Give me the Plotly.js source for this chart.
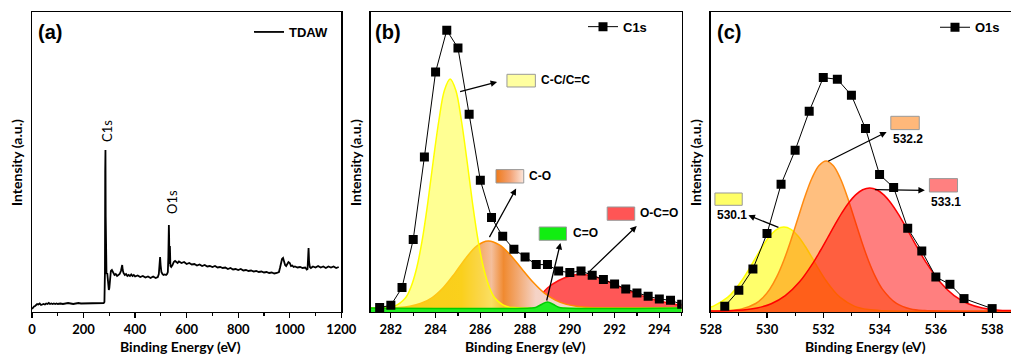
<!DOCTYPE html>
<html><head><meta charset="utf-8">
<script src="https://cdn.plot.ly/plotly-3.0.1.min.js"></script>
<style>html,body{margin:0;padding:0;background:#fff}#chart{width:1011px;height:357px}</style>
</head><body><div id="chart"></div>
<script>
// ---------- (a) survey spectrum ----------
var surveyEnergy = [0,4,8,12,16,20,25,30,35,40,45,50,55,60,65,70,75,80,85,90,95,100,110,120,130,140,150,160,170,180,190,200,210,220,230,240,250,260,270,278,281,283,284,285,286,287,289,292,294,296,298,300,303,306,310,315,320,325,330,335,340,345,348,350,352,355,360,365,370,375,380,385,390,395,400,410,420,430,440,450,460,470,480,488,492,495,497,499,502,506,510,515,520,524,527,529,531,532,533,534,535,537,540,545,550,555,560,565,570,580,590,600,610,620,630,640,650,660,670,680,690,700,710,720,730,740,750,760,770,780,790,800,810,820,830,840,850,860,870,880,890,900,910,920,930,940,950,958,962,966,970,974,978,982,986,990,995,1000,1005,1010,1015,1020,1030,1040,1050,1060,1066,1069,1071,1073,1075,1078,1082,1090,1100,1110,1120,1130,1140,1150,1160,1170,1180,1190];
var surveyIntensity = [3,4.5,5.5,6,7,8,7.5,8.5,7,7.5,8,7.5,8.5,8,9,8,8.5,8,8.5,8,8.5,8,8.5,8,8.5,9,8.5,8,8.5,9,8.5,8.5,9,8.5,9,8.5,9,9,9,9,10,40,140,162,95,40,38,39,34,26,22,24,33,41,42,40,37,38,36,37,38,41,44,47,42,39,37,38,36,37,36,37.5,36,37,35.5,36.5,35,36,34.5,35.5,34,35.5,34,35,38,48,55,47,40,38,37,37.5,37,38,40,55,87,75,48,62,66,46,45,47,50,51,50,49,50.5,49,50,48,49,47.5,48,46.5,47.5,46,47,45.5,46,45,46,44.5,45,44,44.5,43,44,42.5,43,42,43,41.5,42,41,41.5,40.5,41,40,40.5,39.5,40,39,39.5,38.5,39,40,44,50,53,54,50,47,46,48,50,49,46,46.5,45,45.5,44.5,45,44,44.5,42.5,43,55,64,50,45,44,45.5,44.5,46,44.5,45.5,44,45.5,44.5,45.5,44,45];

// ---------- (b) C1s ----------
var c1sEnergy = [281.5,282,282.5,283,283.5,284,284.5,285,285.5,286,286.5,287,287.5,288,288.5,289,289.5,290,290.5,291,291.5,292,292.5,293,293.5,294,294.5,295];
var c1sIntensity = [4.4,6.7,24.4,72.4,155,240,281.7,264,197.7,131.7,94.4,75.7,62.7,55,47.4,47.4,41,39.4,41,36.7,32.4,28,23,19,15.7,13,11.7,7.7];
var ccEnergy = [281.1,282.15,282.65,282.9,283.15,283.4,283.65,283.9,284.15,284.4,284.65,284.9,285.15,285.4,285.65,285.9,286.15,286.4,286.65,287.15,287.65,295];
var ccIntensity = [4,5.7,14,25,43.5,71.6,109,152,192,222,233,222,192,152,109,71.6,43.5,25,14,5.7,4.2,4];
var coEnergy = [281.1,282.35,282.85,283.35,283.85,284.35,284.85,285.35,285.85,286.35,286.85,287.35,287.85,288.35,288.85,289.35,289.85,290.35,290.85,295];
var coIntensity = [4,4.6,5.8,8.7,14.5,24.5,38.4,53.8,66.2,71,67.1,56.8,43.2,29.9,19.1,11.9,7.6,5.5,4.6,4];
var cdoEnergy = [281.1,288.25,288.5,288.75,289.0,289.25,289.5,289.75,295];
var cdoIntensity = [4,4,4.8,7.8,10,7.8,4.8,4,4];
var occoEnergy = [281.1,287.5,288.0,288.5,289.0,289.5,290.0,290.45,291.0,291.5,292.0,292.5,293.0,293.5,294.0,294.5,295.0];
var occoIntensity = [4,4.5,5.5,12,24,31.5,36,37.7,36,32.5,27.5,22.5,18,14,11,8.5,6.5];

// ---------- (c) O1s ----------
var o1sEnergy = [528.5,529,529.5,530,530.5,531,531.5,532,532.5,533,533.5,534,534.5,535,535.5,536,536.5,537,538];
var o1sIntensity = [5.7,21.7,43,78.4,127.7,161.7,200.7,234.4,232.7,216.7,183.4,137.4,124.4,83.7,61,35,27.7,13.4,3.4];
var p5301Energy = [528.0,528.1,528.6,528.85,529.1,529.35,529.6,529.85,530.1,530.35,530.6,530.85,531.1,531.35,531.6,531.85,532.1,532.35,532.6,533.1,533.6,534.1,538.7];
var p5301Intensity = [4.9,5.9,14.6,21.9,31.2,42.3,54.3,66,76,82.7,85,82.7,76,66,54.3,42.3,31.2,21.9,14.6,5.9,2.4,1.3,1];
var p5322Energy = [528,528.6,529.1,529.6,529.85,530.1,530.35,530.6,530.85,531.1,531.35,531.6,531.85,532.1,532.35,532.6,532.85,533.1,533.35,533.6,533.85,534.1,534.6,535.1,535.6,538.7];
var p5322Intensity = [1,1.4,3,8.5,14.2,22.9,35.4,51.8,71.8,93.7,115.5,134,146.5,151,146.5,134,115.5,93.7,71.8,51.8,35.4,22.9,8.5,3,1.4,1];
var p5331Energy = [528,529.15,529.65,530.15,530.65,531.15,531.65,531.9,532.15,532.4,532.65,532.9,533.15,533.4,533.65,533.9,534.15,534.4,534.65,534.9,535.15,535.4,535.65,536.15,536.65,537.15,537.65,538.15,538.7];
var p5331Intensity = [1,2.1,4,8.2,16.3,29.9,49.7,61.5,74,86.6,98.6,109,117.1,122.2,124,122.2,117.1,109,98.6,86.6,74,61.5,49.7,29.9,16.3,8.2,4,2.1,1.4];

var xTickFont = {family:'Lato', size:13, color:'#000', weight:'bold'};
function xAx(domain, range, dtick, anchor){
  return {domain:domain, range:range, anchor:anchor, dtick:dtick, tick0:0, ticks:'outside', ticklen:5, tickwidth:1.2, tickcolor:'#000',
    minor:{dtick:dtick/2, ticks:'outside', ticklen:3, tickwidth:1.2, tickcolor:'#000'},
    showline:true, linecolor:'#000', linewidth:1.3, mirror:true, showgrid:false, zeroline:false, tickfont:xTickFont, fixedrange:true};
}
function yAx(anchor){
  return {domain:[0.12605,0.96639], range:[0,300], anchor:anchor, showticklabels:false, ticks:'', showline:true, linecolor:'#000', linewidth:1.3, mirror:true, showgrid:false, zeroline:false};
}
var sp = {shape:'spline', smoothing:1};
var traces = [
  {x:surveyEnergy, y:surveyIntensity, xaxis:'x', yaxis:'y', mode:'lines', name:'TDAW', line:{color:'#000', width:1.8}, legend:'legend'},
  // (b)
  {x:occoEnergy, y:occoIntensity, xaxis:'x2', yaxis:'y2', mode:'lines', fill:'tozeroy', fillcolor:'#ff5757', line:Object.assign({color:'#ff1010', width:1.5}, sp), showlegend:false, hoverinfo:'skip'},
  {x:coEnergy, y:coIntensity, xaxis:'x2', yaxis:'y2', mode:'lines', fill:'tozeroy',
    fillgradient:{type:'horizontal', start:282, stop:291, colorscale:[[0,'#f29a0c'],[0.35,'#f4a010'],[0.45,'#f5ae70'],[0.5,'#f4bf9c'],[0.56,'#f08a30'],[0.63,'#f2a870'],[0.72,'#f5d3c6'],[1,'#f5d8cc']]},
    line:Object.assign({color:'#ff8c00', width:1.5}, sp), showlegend:false, hoverinfo:'skip'},
  {x:ccEnergy, y:ccIntensity, xaxis:'x2', yaxis:'y2', mode:'lines', fill:'tozeroy', fillcolor:'rgba(255,255,40,0.5)', line:Object.assign({color:'#ffff00', width:1.5}, sp), showlegend:false, hoverinfo:'skip'},
  {x:cdoEnergy, y:cdoIntensity, xaxis:'x2', yaxis:'y2', mode:'lines', fill:'tozeroy', fillcolor:'#22ee22', line:Object.assign({color:'#00cc00', width:1.5}, sp), showlegend:false, hoverinfo:'skip'},
  {x:c1sEnergy, y:c1sIntensity, xaxis:'x2', yaxis:'y2', mode:'lines+markers', name:'C1s', line:{color:'#000', width:1}, marker:{symbol:'square', size:9, color:'#000'}, legend:'legend2'},
  {x:[286.70,287.94,287.94,286.70,286.70], y:[129,129,142.4,142.4,129], xaxis:'x2', yaxis:'y2', mode:'lines', fill:'toself',
    fillgradient:{type:'horizontal', start:286.70, stop:287.94, colorscale:[[0,'#ef7a1a'],[0.5,'#f3a070'],[1,'#fbe6dc']]},
    line:{color:'#999', width:1}, showlegend:false, hoverinfo:'skip'},
  // (c)
  {x:p5301Energy, y:p5301Intensity, xaxis:'x3', yaxis:'y3', mode:'lines', fill:'tozeroy', fillcolor:'rgba(255,255,0,0.58)', line:Object.assign({color:'#ffff00', width:1.5}, sp), showlegend:false, hoverinfo:'skip'},
  {x:p5322Energy, y:p5322Intensity, xaxis:'x3', yaxis:'y3', mode:'lines', fill:'tozeroy', fillcolor:'rgba(255,128,0,0.5)', line:Object.assign({color:'#ff8a10', width:1.5}, sp), showlegend:false, hoverinfo:'skip'},
  {x:p5331Energy, y:p5331Intensity, xaxis:'x3', yaxis:'y3', mode:'lines', fill:'tozeroy', fillcolor:'rgba(255,0,0,0.5)', line:Object.assign({color:'#ff0000', width:1.5}, sp), showlegend:false, hoverinfo:'skip'},
  {x:o1sEnergy, y:o1sIntensity, xaxis:'x3', yaxis:'y3', mode:'lines+markers', name:'O1s', line:{color:'#000', width:1}, marker:{symbol:'square', size:9, color:'#000'}, legend:'legend3'}
];

var labFont = {family:'Liberation Sans', size:12, color:'#000', weight:'bold'};
var titleFont = {family:'Lato', size:14, color:'#000', weight:'bold'};
var panelFont = {family:'Liberation Sans', size:20, color:'#000', weight:'bold'};
function pText(t, x, y, font, extra){ return Object.assign({text:t, x:x, y:y, xref:'paper', yref:'paper', showarrow:false, font:font, xanchor:'left', yanchor:'middle'}, extra||{}); }
function dText(t, ax, x, y){ return {text:t, x:x, y:y, xref:ax[0], yref:ax[1], showarrow:false, font:labFont, xanchor:'left', yanchor:'middle'}; }
function arrow(ax, x0, y0, x1, y1){ return {text:'', x:x1, y:y1, ax:x0, ay:y0, xref:ax[0], yref:ax[1], axref:ax[0], ayref:ax[1], showarrow:true, arrowhead:2, arrowsize:1, arrowwidth:1.3, arrowcolor:'#000'}; }
var B = ['x2','y2'], C = ['x3','y3'], A = ['x','y'];
var annotations = [
  pText('(a)', 0.0356, 0.9104, panelFont),
  pText('(b)', 0.3692, 0.9104, panelFont),
  pText('(c)', 0.7072, 0.9104, panelFont),
  pText('Intensity (a.u.)', 0.0158, 0.5462, titleFont, {textangle:-90, xanchor:'center'}),
  pText('Intensity (a.u.)', 0.3511, 0.5462, titleFont, {textangle:-90, xanchor:'center'}),
  pText('Intensity (a.u.)', 0.6874, 0.5462, titleFont, {textangle:-90, xanchor:'center'}),
  pText('Binding Energy (eV)', 0.1785, 0.0, titleFont, {xanchor:'center', yanchor:'bottom'}),
  pText('Binding Energy (eV)', 0.5200, 0.0, titleFont, {xanchor:'center', yanchor:'bottom'}),
  pText('Binding Energy (eV)', 0.8563, 0.0, titleFont, {xanchor:'center', yanchor:'bottom'}),
  {text:'C1s', x:291, y:181, xref:'x', yref:'y', showarrow:false, textangle:-90, font:{family:'Lato', size:13, color:'#000'}},
  {text:'O1s', x:543, y:110, xref:'x', yref:'y', showarrow:false, textangle:-90, font:{family:'Lato', size:13, color:'#000'}},
  dText('C-C/C=C', B, 288.64, 231.7),
  dText('C-O', B, 288.09, 135.7),
  dText('C=O', B, 290.03, 78.7),
  dText('O-C=O', B, 293.06, 98.7),
  arrow(B, 285.03, 220, 286.75, 230),
  arrow(B, 286.37, 73.4, 287.6, 123.4),
  arrow(B, 288.95, 10, 289.58, 69),
  arrow(B, 290.78, 38.4, 292.99, 86),
  dText('530.1', C, 528.15, 96.7),
  dText('532.2', C, 534.4, 173.4),
  dText('533.1', C, 535.77, 110),
  arrow(C, 530.46, 84, 529.34, 96.7),
  arrow(C, 532.12, 150, 534.25, 180),
  arrow(C, 533.78, 122.4, 535.61, 121.7)
];
function box(ax, x0, x1, y0, y1, col){ return {type:'rect', xref:ax[0], yref:ax[1], x0:x0, x1:x1, y0:y0, y1:y1, fillcolor:col, line:{color:'#999', width:1}}; }
var shapes = [
  box(B, 287.19, 288.46, 225, 237.7, '#ffffa0'),
  box(B, 288.63, 289.85, 71.7, 85, '#11ee11'),
  box(B, 291.67, 292.9, 91.7, 105, '#ff5555'),
  box(C, 528.15, 529.12, 106.7, 119, '#ffff66'),
  box(C, 534.4, 535.41, 182.4, 195.7, '#ffb87a'),
  box(C, 535.77, 536.77, 120, 133.4, '#ff8080')
];
var legFont = {family:'Liberation Sans', size:13, color:'#000', weight:'bold'};
var layout = {
  width:1011, height:357, margin:{l:0,r:0,t:0,b:0}, paper_bgcolor:'#fff', plot_bgcolor:'#fff', showlegend:true,
  xaxis:xAx([0.03165,0.33759],[0,1200],200,'y'), yaxis:yAx('x'),
  xaxis2:xAx([0.36667,0.67428],[281.1,295.0],2,'y2'), yaxis2:yAx('x2'),
  xaxis3:xAx([0.70297,1.0],[528,538.67],2,'y3'), yaxis3:yAx('x3'),
  legend:{x:249/1011, y:0.9104, xanchor:'left', yanchor:'middle', bgcolor:'rgba(0,0,0,0)', font:legFont},
  legend2:{x:583/1011, y:0.9252, xanchor:'left', yanchor:'middle', bgcolor:'rgba(0,0,0,0)', font:legFont},
  legend3:{x:935/1011, y:0.9235, xanchor:'left', yanchor:'middle', bgcolor:'rgba(0,0,0,0)', font:legFont},
  annotations:annotations, shapes:shapes
};
Plotly.newPlot('chart', traces, layout, {staticPlot:true, displayModeBar:false});
</script></body></html>
